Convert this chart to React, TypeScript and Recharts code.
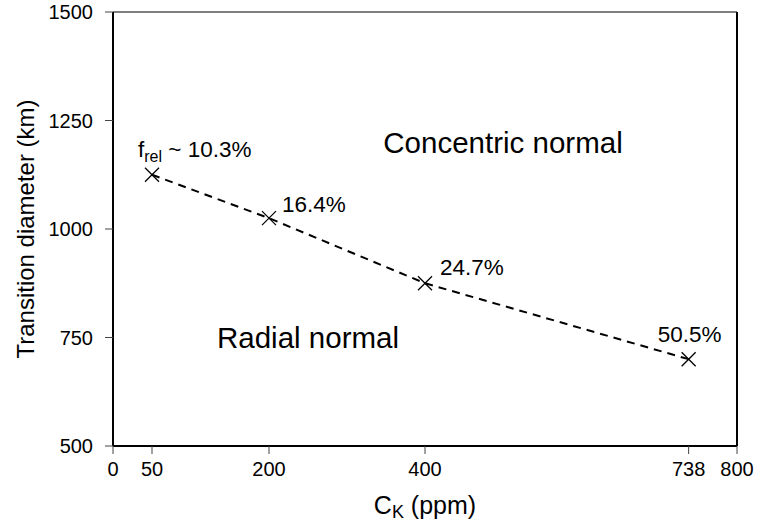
import React from 'react';
import {
  LineChart,
  Line,
  XAxis,
  YAxis,
  ReferenceLine,
  ReferenceDot,
  LabelList,
  Label,
} from 'recharts';

// ---- data ----
const ckValues = [50, 200, 400, 738];
const transitionDiameters = [1125, 1025, 875, 700];
const pointLabels = ['10.3%', '16.4%', '24.7%', '50.5%'];
const xTicks = [0, 50, 200, 400, 738, 800];
const yTicks = [500, 750, 1000, 1250, 1500];
const regionLabels = [
  { text: 'Concentric normal', ck: 500, d: 1200 },
  { text: 'Radial normal', ck: 250, d: 750 },
];

const data = ckValues.map((ck, i) => ({
  ck,
  d: transitionDiameters[i],
  label: pointLabels[i],
}));

// ---- styling ----
const FONT = '"Liberation Sans", Arial, Helvetica, sans-serif';
const labelOffsets = [
  { dx: -14, dy: -18 },
  { dx: 13, dy: -6 },
  { dx: 15, dy: -8 },
  { dx: -31, dy: -17 },
];

const XMarker = (props: any) => {
  const { cx, cy, index } = props;
  const s = 7;
  return (
    <g key={`m-${index}`}>
      <line x1={cx - s} y1={cy - s} x2={cx + s} y2={cy + s} stroke="#000" strokeWidth={1.3} />
      <line x1={cx - s} y1={cy + s} x2={cx + s} y2={cy - s} stroke="#000" strokeWidth={1.3} />
    </g>
  );
};

const PointLabel = (props: any) => {
  const { x, y, value, index } = props;
  const off = labelOffsets[index] || { dx: 10, dy: -8 };
  const tx = x + off.dx;
  const ty = y + off.dy;
  if (index === 0) {
    return (
      <text x={tx} y={ty} fontSize={22.5} fontFamily={FONT} fill="#000">
        <tspan>f</tspan>
        <tspan fontSize={16} dy={5}>rel</tspan>
        <tspan dy={-5}>{` ~ ${value}`}</tspan>
      </text>
    );
  }
  return (
    <text x={tx} y={ty} fontSize={22.5} fontFamily={FONT} fill="#000">
      {value}
    </text>
  );
};

const RegionLabel = (text: string) => (props: any) => {
  const vb = props.viewBox || {};
  const cx = vb.x + (vb.width || 0) / 2;
  const cy = vb.y + (vb.height || 0) / 2;
  return (
    <text x={cx} y={cy} dy={10.5} textAnchor="middle" fontSize={29.5} fontFamily={FONT} fill="#000">
      {text}
    </text>
  );
};

const YTitle = (props: any) => {
  const vb = props.viewBox;
  const x = vb.x + 1;
  const y = vb.y + vb.height / 2;
  return (
    <text
      x={x}
      y={y}
      transform={`rotate(-90 ${x} ${y})`}
      textAnchor="middle"
      fontSize={24}
      fontFamily={FONT}
      fill="#000"
    >
      Transition diameter (km)
    </text>
  );
};

const XTitle = (props: any) => {
  const vb = props.viewBox;
  const x = vb.x + vb.width / 2;
  const y = vb.y + vb.height + 18;
  return (
    <text x={x} y={y} textAnchor="middle" fontSize={25} fontFamily={FONT} fill="#000">
      <tspan>C</tspan>
      <tspan fontSize={18} dy={4}>K</tspan>
      <tspan dy={-4}> (ppm)</tspan>
    </text>
  );
};

export default function App() {
  return (
    <div style={{ position: 'absolute', left: 0, top: 0, background: '#fff' }}>
      <LineChart
        width={757}
        height={524}
        data={data}
        margin={{ top: 12, right: 20, bottom: 28, left: 33 }}
        style={{ fontFamily: FONT }}
      >
        <XAxis
          dataKey="ck"
          type="number"
          domain={[0, 800]}
          ticks={xTicks}
          interval={0}
          height={50}
          tickSize={8}
          tickMargin={8}
          axisLine={{ stroke: '#000', strokeWidth: 2 }}
          tickLine={{ stroke: '#444', strokeWidth: 1 }}
          tick={{ fontSize: 20, fill: '#000', fontFamily: FONT }}
        >
          <Label content={XTitle} />
        </XAxis>
        <YAxis
          type="number"
          dataKey="d"
          domain={[500, 1500]}
          ticks={yTicks}
          interval={0}
          width={80}
          tickSize={8}
          tickMargin={12}
          axisLine={{ stroke: '#000', strokeWidth: 2 }}
          tickLine={{ stroke: '#444', strokeWidth: 1 }}
          tick={{ fontSize: 20, fill: '#000', fontFamily: FONT }}
        >
          <Label content={YTitle} />
        </YAxis>
        <ReferenceLine y={1500} stroke="#000" strokeWidth={1.2} />
        <ReferenceLine x={800} stroke="#000" strokeWidth={2} />
        {regionLabels.map((r) => (
          <ReferenceDot
            key={r.text}
            x={r.ck}
            y={r.d}
            r={0}
            fill="none"
            stroke="none"
            label={<Label content={RegionLabel(r.text)} />}
          />
        ))}
        <Line
          type="linear"
          dataKey="d"
          stroke="#000"
          strokeWidth={2}
          strokeDasharray="8 6"
          dot={XMarker}
          activeDot={false}
          isAnimationActive={false}
        >
          <LabelList dataKey="label" content={PointLabel} />
        </Line>
      </LineChart>
    </div>
  );
}
